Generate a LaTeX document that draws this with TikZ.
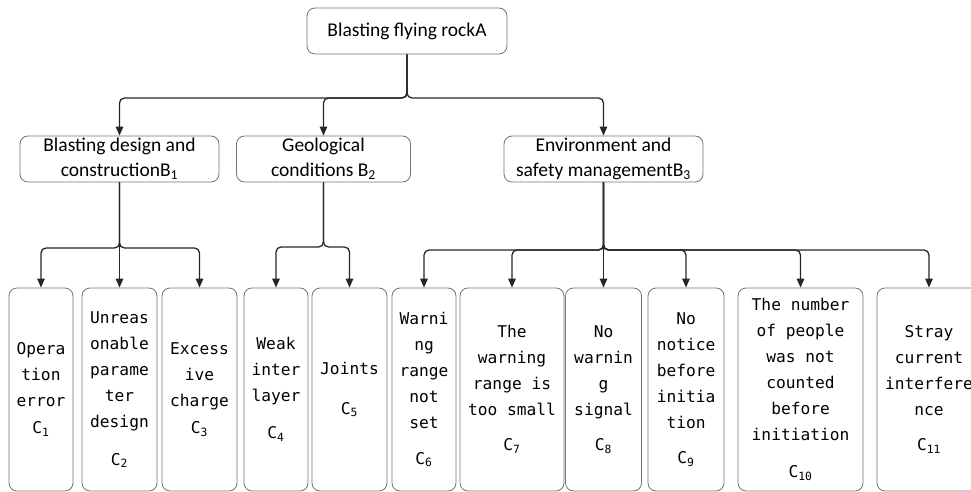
\documentclass[tikz,border=0pt]{standalone}
\usepackage{fontspec}
\setmainfont{Carlito}
\newfontfamily\monof{DejaVu Sans Mono}
\usetikzlibrary{arrows.meta}
\begin{document}
\begin{tikzpicture}[x=1pt,y=-1pt,
  box/.style={draw=black!55, rounded corners=8pt, line width=0.8pt, inner sep=0pt, align=center, text=black},
  bnode/.style={box, minimum height=46pt, font=\fontsize{19.5}{25}\selectfont},
  cnode/.style={box, minimum height=203pt, font=\monof\fontsize{16.2}{26}\selectfont},
  conn/.style={line width=1.3pt, draw=black!85, rounded corners=5pt, -{Triangle[length=9pt,width=7.5pt]}}]
\useasboundingbox (0,0) rectangle (971,492);
\clip (0,0) rectangle (971,492);
% top and middle level
\node[bnode, minimum width=200pt] (A) at (407,31) {Blasting flying rockA};
\node[bnode, minimum width=199pt] (B1) at (119.5,159) {Blasting design and\\constructionB\textsubscript{1}};
\node[bnode, minimum width=174pt] (B2) at (323.5,159) {Geological\\conditions B\textsubscript{2}};
\node[bnode, minimum width=199pt] (B3) at (603.5,159) {Environment and\\safety managementB\textsubscript{3}};
% bottom level
\node[cnode, minimum width=64pt] (C1) at (41,389.5) {Opera\\tion\\error\\[1pt]C\textsubscript{1}};
\node[cnode, minimum width=75pt] (C2) at (119.5,389.5) {Unreas\\onable\\parame\\ter\\design\\[12pt]C\textsubscript{2}};
\node[cnode, minimum width=75pt] (C3) at (199.5,389.5) {Excess\\ive\\charge\\[1pt]C\textsubscript{3}};
\node[cnode, minimum width=64pt] (C4) at (276,389.5) {Weak\\inter\\layer\\[11pt]C\textsubscript{4}};
\node[cnode, minimum width=75pt] (C5) at (349.5,389.5) {Joints\\[14pt]C\textsubscript{5}};
\node[cnode, minimum width=64pt] (C6) at (424,389.5) {Warni\\ng\\range\\not\\set\\[10pt]C\textsubscript{6}};
\node[cnode, minimum width=104pt] (C7) at (512,389.5) {The\\warning\\range is\\too small\\[9pt]C\textsubscript{7}};
\node[cnode, minimum width=76pt] (C8) at (603.5,389.5) {No\\warnin\\g\\signal\\[9pt]C\textsubscript{8}};
\node[cnode, minimum width=76pt] (C9) at (686,389.5) {No\\notice\\before\\initia\\tion\\[9pt]C\textsubscript{9}};
\node[cnode, minimum width=125pt] (C10) at (800.5,389.5) {The number\\of people\\was not\\counted\\before\\initiation\\[11pt]C\textsubscript{10}};
\node[cnode, minimum width=104pt] (C11) at (929,389.5) {Stray\\current\\interfere\\nce\\[9pt]C\textsubscript{11}};
% bus levels
\coordinate (yA) at (0,98);
\coordinate (y1) at (0,248);
\coordinate (y2) at (0,247);
\coordinate (y3) at (0,250);
% connectors A -> B
\draw[conn] (A.south) |- (B1.north |- yA) -- (B1.north);
\draw[conn] (A.south) |- (B2.north |- yA) -- (B2.north);
\draw[conn] (A.south) |- (B3.north |- yA) -- (B3.north);
% B1 -> C1..C3
\draw[conn] (B1.south) |- (C1.north |- y1) -- (C1.north);
\draw[conn] (B1.south) -- (C2.north);
\draw[conn] (B1.south) |- (C3.north |- y1) -- (C3.north);
% B2 -> C4, C5
\draw[conn] (B2.south) |- (C4.north |- y2) -- (C4.north);
\draw[conn] (B2.south) |- (C5.north |- y2) -- (C5.north);
% B3 -> C6..C11
\draw[conn] (B3.south) |- (C6.north |- y3) -- (C6.north);
\draw[conn] (B3.south) |- (C7.north |- y3) -- (C7.north);
\draw[conn] (B3.south) -- (C8.north);
\draw[conn] (B3.south) |- (C9.north |- y3) -- (C9.north);
\draw[conn] (B3.south) |- (C10.north |- y3) -- (C10.north);
\draw[conn] (B3.south) |- (C11.north |- y3) -- (C11.north);
\end{tikzpicture}
\end{document}
